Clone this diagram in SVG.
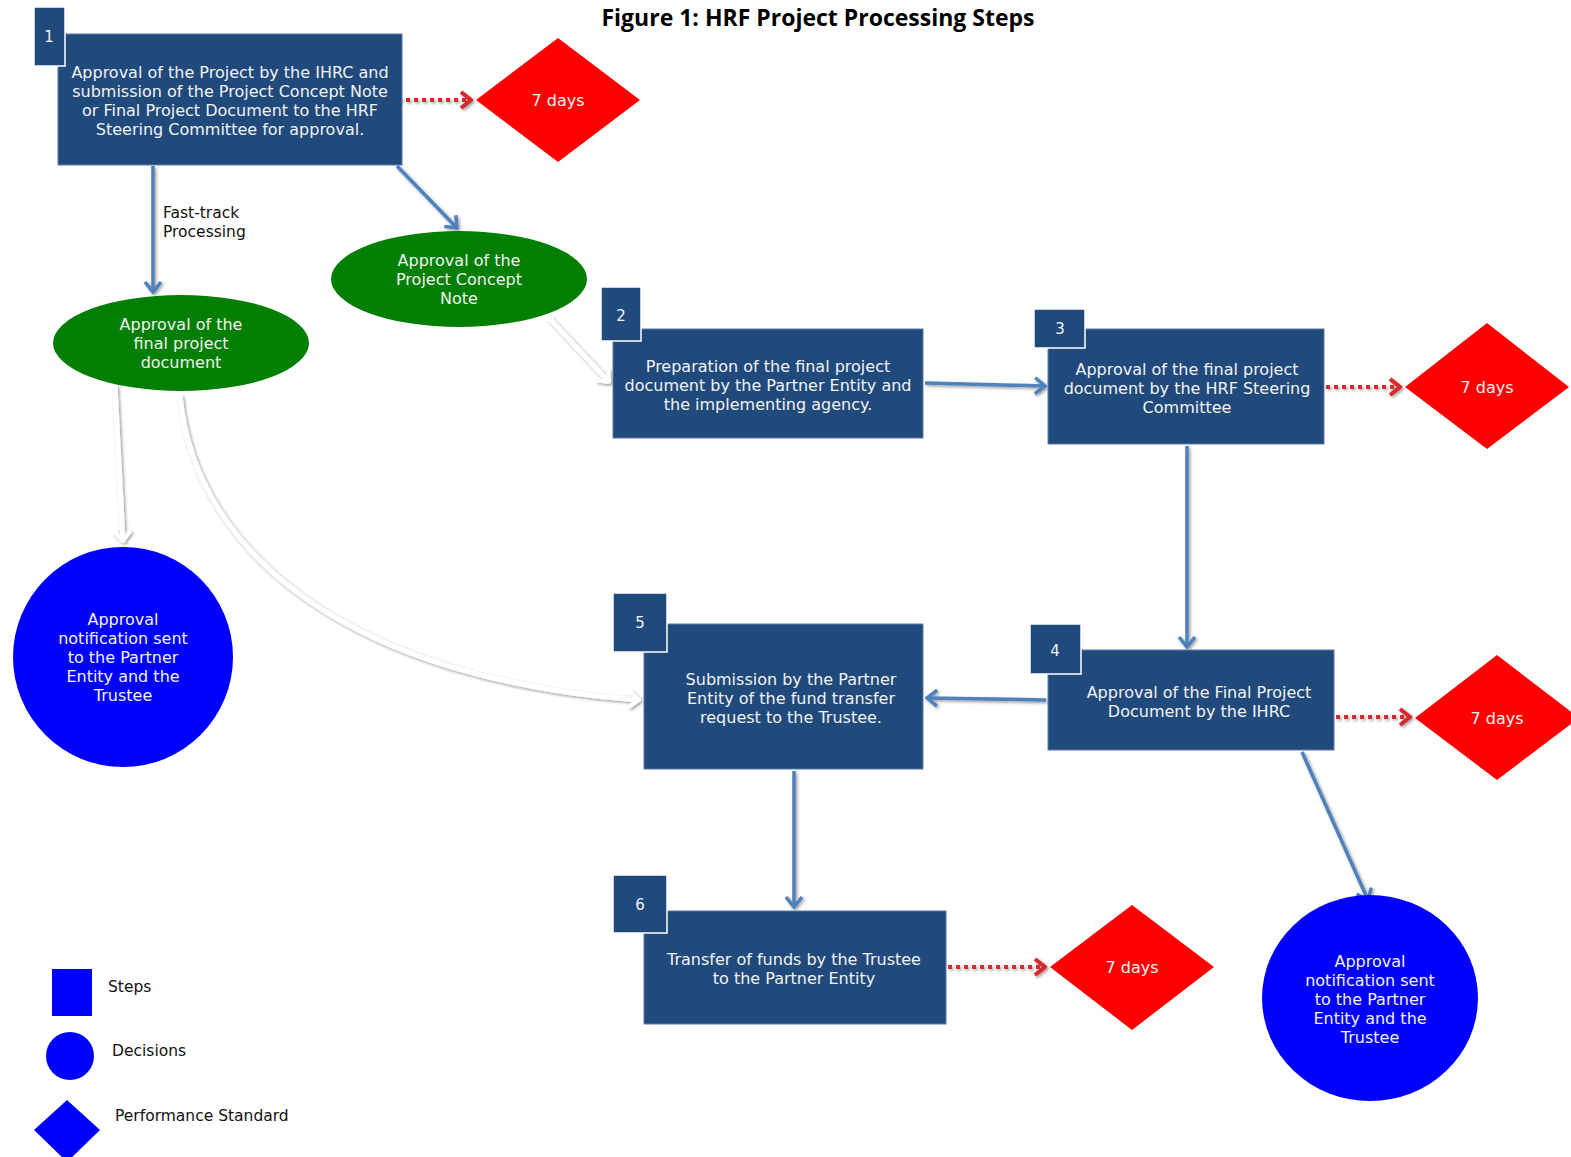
<svg xmlns="http://www.w3.org/2000/svg" width="1571" height="1157" viewBox="0 0 1571 1157">
<style>
.box{fill:#214A7C;stroke:#5B7BA8;stroke-width:1}
.tab{fill:#214A7C;stroke:#FFFFFF;stroke-width:1.5}
.t{font-family:"DejaVu Sans",Verdana,sans-serif;font-size:16px;fill:#F2F2F2;text-anchor:middle}
.num{font-family:"DejaVu Sans",Verdana,sans-serif;font-size:15px;fill:#F2F2F2;text-anchor:middle}
.lbl{font-family:"DejaVu Sans",Verdana,sans-serif;font-size:15.5px;fill:#111111}
.dia{fill:#FF0000}
.dec{fill:#0000FF}
.ell{fill:#007F00}
.blue{fill:none;stroke:#4F81BD;stroke-width:3.5}
.red{fill:none;stroke:#D62A2E;stroke-width:4;stroke-dasharray:4 4}
.white{fill:none;stroke:#FFFFFF;stroke-width:5}
</style>
<defs>
<filter id="sh" x="-20%" y="-20%" width="140%" height="140%">
<feDropShadow dx="1.5" dy="1.5" stdDeviation="1.5" flood-color="#000" flood-opacity="0.4"/>
</filter>
<marker id="ab" markerUnits="userSpaceOnUse" viewBox="0 0 14 20" markerWidth="14" markerHeight="20" refX="12" refY="10" orient="auto">
<path d="M2,2 L12,10 L2,18" fill="none" stroke="#4F81BD" stroke-width="3.5"/>
</marker>
<marker id="ar" markerUnits="userSpaceOnUse" viewBox="0 0 14 20" markerWidth="14" markerHeight="20" refX="12" refY="10" orient="auto">
<path d="M2,2 L12,10 L2,18" fill="none" stroke="#D62A2E" stroke-width="4"/>
</marker>
<marker id="aw" markerUnits="userSpaceOnUse" viewBox="0 0 14 20" markerWidth="14" markerHeight="20" refX="12" refY="10" orient="auto">
<path d="M2,2 L12,10 L2,18" fill="none" stroke="#FFFFFF" stroke-width="4"/>
</marker>
</defs>
<rect width="1571" height="1157" fill="#FFFFFF"/>
<text x="818" y="26" font-family="'Open Sans','Liberation Sans',sans-serif" font-size="23" font-weight="bold" fill="#000" text-anchor="middle">Figure 1: HRF Project Processing Steps</text>

<g id="connectors">
<g filter="url(#sh)">
<line class="red" x1="398" y1="100" x2="471" y2="100" marker-end="url(#ar)"/>
<line class="red" x1="1326" y1="387" x2="1400" y2="387" marker-end="url(#ar)"/>
<line class="red" x1="1336" y1="717" x2="1410" y2="717" marker-end="url(#ar)"/>
<line class="red" x1="948" y1="967" x2="1045" y2="967" marker-end="url(#ar)"/>
<line class="blue" x1="153" y1="166" x2="153" y2="292" marker-end="url(#ab)"/>
<line class="blue" x1="397" y1="166" x2="457" y2="228" marker-end="url(#ab)"/>
<line class="blue" x1="925" y1="383" x2="1045" y2="386" marker-end="url(#ab)"/>
<line class="blue" x1="1187" y1="446" x2="1187" y2="647" marker-end="url(#ab)"/>
<line class="blue" x1="1046" y1="700" x2="927" y2="698" marker-end="url(#ab)"/>
<line class="blue" x1="794" y1="771" x2="794" y2="907" marker-end="url(#ab)"/>
<line class="blue" x1="1302" y1="752" x2="1368" y2="900" marker-end="url(#ab)"/>
<line class="white" x1="549" y1="318" x2="609" y2="382" marker-end="url(#aw)"/>
<line class="white" x1="115" y1="385" x2="123" y2="541" marker-end="url(#aw)"/>
<path class="white" d="M180,395 C195,560 360,680 639,700" marker-end="url(#aw)"/>
</g>
<text class="lbl" x="163" y="218">Fast-track</text>
<text class="lbl" x="163" y="237">Processing</text>
</g>

<g id="step1">
<rect class="box" x="58" y="34" width="344" height="131"/>
<rect class="tab" x="34" y="7" width="31" height="59"/>
<text class="num" x="49" y="42">1</text>
<text class="t" x="230" y="78">Approval of the Project by the IHRC and</text>
<text class="t" x="230" y="97">submission of the Project Concept Note</text>
<text class="t" x="230" y="116">or Final Project Document to the HRF</text>
<text class="t" x="230" y="135">Steering Committee for approval.</text>
</g>
<g id="ps1">
<polygon class="dia" points="558,38 640,100 558,162 476,100"/>
<text class="t" x="558" y="106">7 days</text>
</g>
<g id="concept">
<ellipse class="ell" cx="459" cy="279" rx="128" ry="48"/>
<text class="t" x="459" y="266">Approval of the</text>
<text class="t" x="459" y="285">Project Concept</text>
<text class="t" x="459" y="304">Note</text>
</g>
<g id="finaldoc">
<ellipse class="ell" cx="181" cy="343" rx="128" ry="48"/>
<text class="t" x="181" y="330">Approval of the</text>
<text class="t" x="181" y="349">final project</text>
<text class="t" x="181" y="368">document</text>
</g>
<g id="notify1">
<circle class="dec" cx="123" cy="657" r="110"/>
<text class="t" x="123" y="625">Approval</text>
<text class="t" x="123" y="644">notification sent</text>
<text class="t" x="123" y="663">to the Partner</text>
<text class="t" x="123" y="682">Entity and the</text>
<text class="t" x="123" y="701">Trustee</text>
</g>
<g id="step2">
<rect class="box" x="613" y="329" width="310" height="109"/>
<rect class="tab" x="601" y="287" width="40" height="54"/>
<text class="num" x="621" y="321">2</text>
<text class="t" x="768" y="372">Preparation of the final project</text>
<text class="t" x="768" y="391">document by the Partner Entity and</text>
<text class="t" x="768" y="410">the implementing agency.</text>
</g>
<g id="step3">
<rect class="box" x="1048" y="329" width="276" height="115"/>
<rect class="tab" x="1034" y="309" width="51" height="39"/>
<text class="num" x="1060" y="334">3</text>
<text class="t" x="1187" y="375">Approval of the final project</text>
<text class="t" x="1187" y="394">document by the HRF Steering</text>
<text class="t" x="1187" y="413">Committee</text>
</g>
<g id="ps2">
<polygon class="dia" points="1487,323 1569,387 1487,449 1405,387"/>
<text class="t" x="1487" y="393">7 days</text>
</g>
<g id="step4">
<rect class="box" x="1048" y="650" width="286" height="100"/>
<rect class="tab" x="1030" y="624" width="51" height="50"/>
<text class="num" x="1055" y="656">4</text>
<text class="t" x="1199" y="698">Approval of the Final Project</text>
<text class="t" x="1199" y="717">Document by the IHRC</text>
</g>
<g id="ps3">
<polygon class="dia" points="1497,655 1579,718 1497,780 1415,718"/>
<text class="t" x="1497" y="724">7 days</text>
</g>
<g id="step5">
<rect class="box" x="644" y="624" width="279" height="145"/>
<rect class="tab" x="613" y="593" width="54" height="59"/>
<text class="num" x="640" y="628">5</text>
<text class="t" x="791" y="685">Submission by the Partner</text>
<text class="t" x="791" y="704">Entity of the fund transfer</text>
<text class="t" x="791" y="723">request to the Trustee.</text>
</g>
<g id="step6">
<rect class="box" x="644" y="911" width="302" height="113"/>
<rect class="tab" x="613" y="875" width="54" height="58"/>
<text class="num" x="640" y="910">6</text>
<text class="t" x="794" y="965">Transfer of funds by the Trustee</text>
<text class="t" x="794" y="984">to the Partner Entity</text>
</g>
<g id="ps4">
<polygon class="dia" points="1132,905 1214,967 1132,1030 1050,967"/>
<text class="t" x="1132" y="973">7 days</text>
</g>
<g id="notify2">
<ellipse class="dec" cx="1370" cy="998" rx="108" ry="103"/>
<text class="t" x="1370" y="967">Approval</text>
<text class="t" x="1370" y="986">notification sent</text>
<text class="t" x="1370" y="1005">to the Partner</text>
<text class="t" x="1370" y="1024">Entity and the</text>
<text class="t" x="1370" y="1043">Trustee</text>
</g>
<g id="legend">
<rect class="dec" x="52" y="969" width="40" height="47"/>
<text class="lbl" x="108" y="992">Steps</text>
<circle class="dec" cx="70" cy="1056" r="24"/>
<text class="lbl" x="112" y="1056">Decisions</text>
<polygon class="dia" style="fill:#0000FF" points="67,1100 100,1130 67,1162 34,1130"/>
<text class="lbl" x="115" y="1121">Performance Standard</text>
</g>
</svg>
